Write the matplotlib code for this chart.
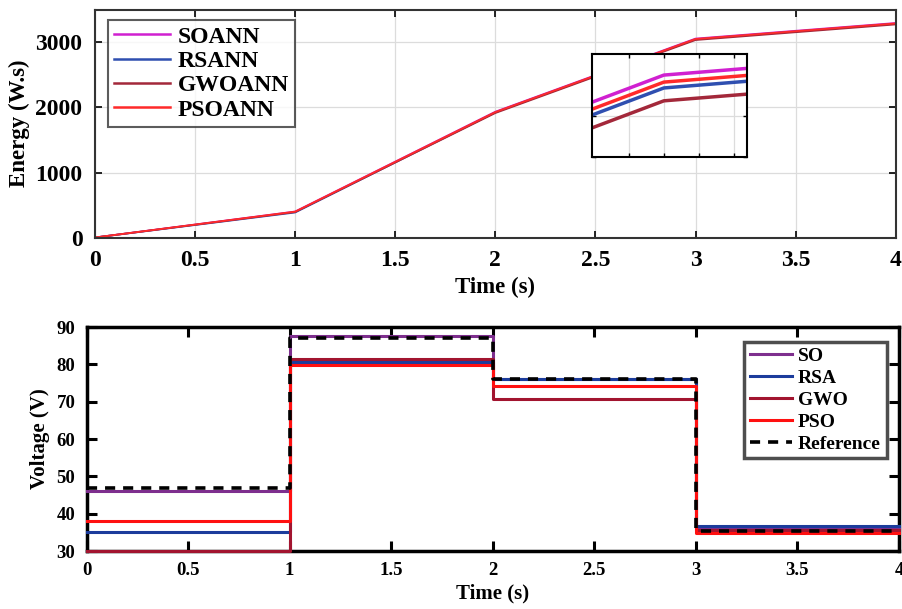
import numpy as np
import matplotlib.pyplot as plt

plt.rcParams['font.family'] = ['Liberation Serif', 'DejaVu Serif']
plt.rcParams['font.weight'] = 'bold'

# energy plot data
t_energy = [0, 1, 2, 3, 4]
energy = {
    'SOANN': [0, 400, 1935, 3060, 3300],
    'RSANN': [0, 385, 1925, 3049, 3289],
    'GWOANN': [0, 392, 1915, 3038, 3278],
    'PSOANN': [0, 398, 1930, 3054, 3294],
}
energy_colors = {'SOANN': '#d020d0', 'RSANN': '#2f4fb0', 'GWOANN': '#a3283a', 'PSOANN': '#ff2a2a'}

# voltage plot data (step values on [0,1),[1,2),[2,3),[3,4])
t_volt = [0, 1, 2, 3, 4]
voltage = {
    'SO': [46, 87.5, 76, 36.3],
    'RSA': [35, 80.5, 76.2, 36.8],
    'GWO': [30, 81.5, 70.8, 35.6],
    'PSO': [38, 79.8, 74.2, 34.9],
}
reference = [47, 87, 76, 35.4]
volt_colors = {'SO': '#7e2f8e', 'RSA': '#1c3c9c', 'GWO': '#a2142f', 'PSO': '#ff1010'}

fig = plt.figure(figsize=(9.02, 6.09), dpi=100)

# ---- top: energy ----
ax1 = fig.add_axes([0.1053, 0.610, 0.8877, 0.3736])
for name, vals in energy.items():
    ax1.plot(t_energy, vals, color=energy_colors[name], lw=1.3, label=name)
ax1.set_xlim(0, 4)
ax1.set_ylim(0, 3500)
ax1.set_xticks(np.arange(0, 4.01, 0.5))
ax1.set_xticklabels(['0', '0.5', '1', '1.5', '2', '2.5', '3', '3.5', '4'])
ax1.set_yticks([0, 1000, 2000, 3000])
ax1.grid(True, color='#dcdcdc', lw=0.9)
ax1.tick_params(direction='in', length=5, width=1.2, top=True, right=True, labelsize=17, pad=9)
for s in ax1.spines.values():
    s.set_color('#333333')
    s.set_linewidth(1.5)
ax1.set_xlabel('Time (s)', fontsize=16.5, fontweight='bold', labelpad=4)
ax1.set_ylabel('Energy (W.s)', fontsize=16.5, fontweight='bold', labelpad=4)
leg1 = ax1.legend(loc='upper left', bbox_to_anchor=(0.016, 0.955), fontsize=17, handlelength=2.4,
                  fancybox=False, edgecolor='#333333', borderpad=0.25, labelspacing=0.12,
                  handletextpad=0.3, borderaxespad=0)
leg1.get_frame().set_linewidth(1.5)
for h in leg1.get_lines():
    h.set_linewidth(1.8)

# inset zoom around t = 3
axin = fig.add_axes([0.6563, 0.7422, 0.1718, 0.1691])
for name in ['SOANN', 'PSOANN', 'RSANN', 'GWOANN']:
    axin.plot(t_energy, energy[name], color=energy_colors[name], lw=2.5)
axin.set_xlim(2.9794, 3.0238)
axin.set_ylim(2990, 3078)
axin.set_xticks([2.99, 3.0, 3.01, 3.02])
axin.set_yticks([2990, 3025])
axin.set_xticklabels([])
axin.set_yticklabels([])
axin.grid(True, color='#dcdcdc', lw=0.9)
axin.tick_params(direction='in', length=3, width=1, top=True, right=True)
for s in axin.spines.values():
    s.set_color('black')
    s.set_linewidth(1.5)

# ---- bottom: voltage ----
ax2 = fig.add_axes([0.0959, 0.0952, 0.9008, 0.3678])
for name, vals in voltage.items():
    ax2.plot(t_volt, vals + [vals[-1]], drawstyle='steps-post', color=volt_colors[name], lw=2.2,
             label=name, clip_on=False, zorder=3)
ax2.plot(t_volt, reference + [reference[-1]], drawstyle='steps-post', color='black', lw=2.6,
         ls=(0, (2.8, 2.2)), label='Reference', zorder=3)
ax2.set_xlim(0, 4)
ax2.set_ylim(30, 90)
ax2.set_xticks(np.arange(0, 4.01, 0.5))
ax2.set_xticklabels(['0', '0.5', '1', '1.5', '2', '2.5', '3', '3.5', '4'])
ax2.set_yticks(np.arange(30, 91, 10))
ax2.tick_params(direction='in', length=7, width=2.2, top=True, right=True, labelsize=13.5, pad=8)
for s in ax2.spines.values():
    s.set_color('black')
    s.set_linewidth(2.5)
    s.set_zorder(2)
ax2.set_xlabel('Time (s)', fontsize=15, fontweight='bold', labelpad=3)
ax2.set_ylabel('Voltage (V)', fontsize=15, fontweight='bold', labelpad=5)
leg2 = ax2.legend(loc='upper right', bbox_to_anchor=(0.985, 0.935), fontsize=14, handlelength=2.2,
                  fancybox=False, edgecolor='#222222', borderpad=0.3, labelspacing=0.22,
                  handletextpad=0.3, borderaxespad=0)
leg2.get_frame().set_linewidth(2.5)
leg2.set_zorder(5)

fig.savefig('out.png', dpi=100)
